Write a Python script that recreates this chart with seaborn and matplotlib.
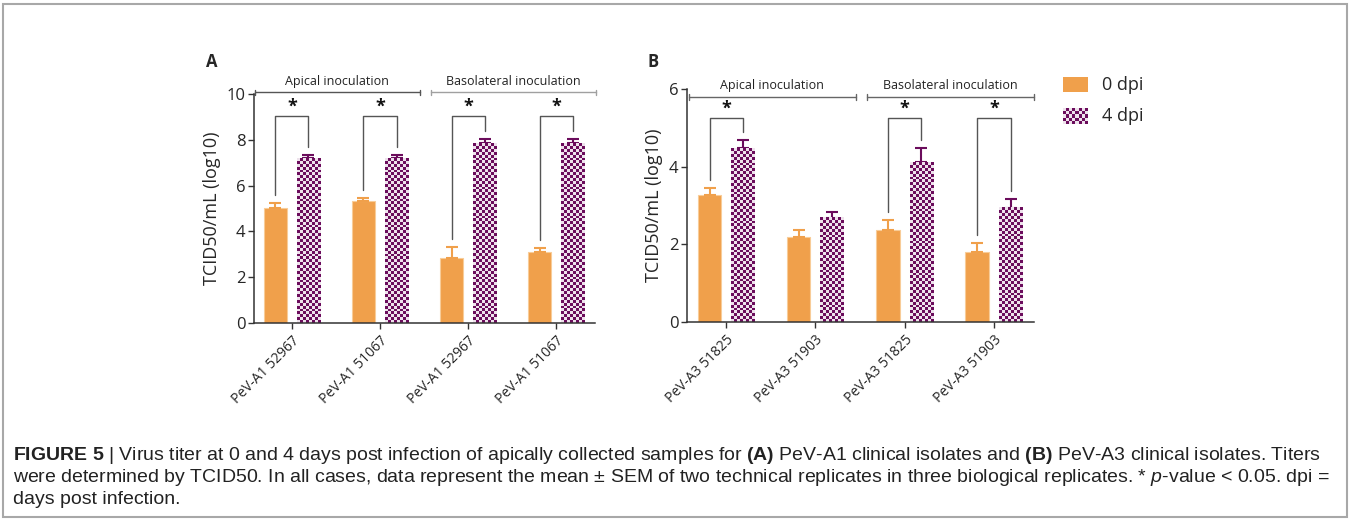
import numpy as np
import pandas as pd
import matplotlib
matplotlib.use("Agg")
import matplotlib.pyplot as plt
from matplotlib.colors import ListedColormap
from matplotlib.patches import Rectangle
import seaborn as sns

# --- DATA ---
dpi_levels = ["0 dpi", "4 dpi"]

labels_a = ["PeV-A1 52967", "PeV-A1 51067", "PeV-A1 52967", "PeV-A1 51067"]
a_0dpi = [5.02, 5.33, 2.82, 3.09]
a_0dpi_sem = [0.23, 0.14, 0.50, 0.20]
a_4dpi = [7.19, 7.19, 7.85, 7.85]
a_4dpi_sem = [0.14, 0.14, 0.18, 0.18]
a_sig = [True, True, True, True]

labels_b = ["PeV-A3 51825", "PeV-A3 51903", "PeV-A3 51825", "PeV-A3 51903"]
b_0dpi = [3.26, 2.19, 2.36, 1.80]
b_0dpi_sem = [0.19, 0.18, 0.26, 0.23]
b_4dpi = [4.47, 2.68, 4.11, 2.94]
b_4dpi_sem = [0.21, 0.16, 0.36, 0.23]
b_sig = [True, False, True, True]

groups = ["Apical inoculation", "Basolateral inoculation"]

ORANGE = "#F0A04B"
PURPLE = "#6B0C5C"
CHECK_LIGHT = "#EEE2EC"
checker_cmap = ListedColormap([CHECK_LIGHT, PURPLE])

CAPTION = [
    r"$\mathbf{FIGURE\ 5}$ | Virus titer at 0 and 4 days post infection of apically collected samples for "
    r"$\mathbf{(A)}$ PeV-A1 clinical isolates and $\mathbf{(B)}$ PeV-A3 clinical isolates. Titers",
    r"were determined by TCID50. In all cases, data represent the mean $\pm$ SEM of two technical replicates "
    r"in three biological replicates. * $\mathit{p}$-value < 0.05. dpi =",
    "days post infection.",
]

sns.set_style("ticks")
plt.rcParams["font.family"] = ["Open Sans", "DejaVu Sans"]
plt.rcParams["mathtext.fontset"] = "custom"
plt.rcParams["mathtext.rm"] = "Liberation Sans"
plt.rcParams["mathtext.bf"] = "Liberation Sans:bold"
plt.rcParams["mathtext.it"] = "Liberation Sans:italic"

W, H = 1351, 521
fig = plt.figure(figsize=(W / 100, H / 100), dpi=100)


def px_axes(left, top, right, bottom):
    return fig.add_axes([left / W, 1 - bottom / H, (right - left) / W, (bottom - top) / H])


def checker_fill(ax, bar, cell=2.9):
    # overlay a checkerboard on a bar, clipped to the bar patch
    x0, y0 = bar.get_x(), bar.get_y()
    x1, y1 = x0 + bar.get_width(), y0 + bar.get_height()
    p0 = ax.transData.transform((x0, y0))
    p1 = ax.transData.transform((x1, y1))
    nc = max(1, int(round(abs(p1[0] - p0[0]) / cell)))
    nr = max(1, int(round(abs(p1[1] - p0[1]) / cell)))
    ii, jj = np.indices((nr, nc))
    ax.imshow((ii + jj) % 2, cmap=checker_cmap, extent=(x0, x1, y0, y1), origin="lower",
              interpolation="nearest", aspect="auto", clip_path=bar, zorder=bar.get_zorder() + 0.1)


def draw_panel(ax, labels, v0, e0, v4, e4, sig, ymax, step, group_y, group_text_y,
               sig_y, star_y, xlim, base_color):
    df = pd.DataFrame({
        "pos": [str(i) for i in range(len(labels))] * 2,
        "dpi": [dpi_levels[0]] * len(labels) + [dpi_levels[1]] * len(labels),
        "titer": list(v0) + list(v4),
    })
    sns.barplot(data=df, x="pos", y="titer", hue="dpi", hue_order=dpi_levels,
                palette=[ORANGE, PURPLE], width=0.75, gap=0.3, saturation=1,
                errorbar=None, legend=False, ax=ax, linewidth=0.8)
    ax.set_xlim(*xlim)
    ax.set_ylim(0, ymax)

    bars0 = list(ax.containers[0])
    bars4 = list(ax.containers[1])
    for b in bars0:
        b.set_edgecolor("#F8CC98")
    for b in bars4:
        b.set_edgecolor("none")
        checker_fill(ax, b)

    # error bars (upper SEM only)
    for bars, errs, col in [(bars0, e0, ORANGE), (bars4, e4, PURPLE)]:
        for b, e in zip(bars, errs):
            cx = b.get_x() + b.get_width() / 2
            ax.errorbar(cx, b.get_height(), yerr=[[0], [e]], fmt="none", ecolor=col,
                        elinewidth=1.5, capsize=4, capthick=1.5, zorder=1)

    # significance brackets
    gap = 0.035 * ymax
    for i, s in enumerate(sig):
        if not s:
            continue
        b0, b4 = bars0[i], bars4[i]
        xl = b0.get_x() + b0.get_width() / 2
        xr = b4.get_x() + b4.get_width() / 2
        yl = b0.get_height() + e0[i] + gap
        yr = b4.get_height() + e4[i] + gap
        ax.plot([xl, xl, xr, xr], [yl, sig_y, sig_y, yr], color="#555555", lw=1.0,
                clip_on=False, zorder=3)
        ax.text((xl + xr) / 2, star_y, "*", ha="center", va="center", fontsize=13,
                fontweight="bold", color="#111111")

    # inoculation route brackets
    tick_h = 0.012 * ymax
    for k, name in enumerate(groups):
        g0, g1 = 2 * k, 2 * k + 1
        xa, xb = g0 - 0.42, g1 + 0.45
        col = base_color[k]
        ax.plot([xa, xb], [group_y, group_y], color=col, lw=1.0, clip_on=False)
        for xe in (xa, xb):
            ax.plot([xe, xe], [group_y - tick_h, group_y + tick_h], color=col, lw=1.0,
                    clip_on=False)
        ax.text((xa + xb) / 2, group_text_y, name, ha="center", va="center", fontsize=9,
                color="#222222")

    ax.set_yticks(np.arange(0, ymax + 0.01, step))
    ax.set_xticks(range(len(labels)))
    ax.set_xticklabels(labels, rotation=45, ha="right", rotation_mode="anchor", fontsize=10)
    ax.tick_params(axis="y", labelsize=12, length=4, width=1, color="#333333", pad=2)
    ax.tick_params(axis="x", length=4, width=1, color="#333333")
    ax.set_xlabel("")
    ax.set_ylabel("TCID50/mL (log10)", fontsize=13, labelpad=4)
    sns.despine(ax=ax)
    for sp in ("left", "bottom"):
        ax.spines[sp].set_color("#333333")
        ax.spines[sp].set_linewidth(1.1)
    ax.set_xlim(*xlim)
    ax.set_ylim(0, ymax)


ax_a = px_axes(254, 94, 595, 323)
draw_panel(ax_a, labels_a, a_0dpi, a_0dpi_sem, a_4dpi, a_4dpi_sem, a_sig,
           ymax=10, step=2, group_y=10.07, group_text_y=10.55, sig_y=9.04, star_y=9.45,
           xlim=(-0.43, 3.44), base_color=["#555555", "#A0A0A0"])

ax_b = px_axes(687, 89, 1034, 322)
draw_panel(ax_b, labels_b, b_0dpi, b_0dpi_sem, b_4dpi, b_4dpi_sem, b_sig,
           ymax=6, step=2, group_y=5.8, group_text_y=6.1, sig_y=5.25, star_y=5.5,
           xlim=(-0.44, 3.45), base_color=["#666666", "#666666"])

# panel letters
fig.text(212 / W, 1 - 62 / H, "A", fontsize=12, fontweight="bold", ha="center", va="center")
fig.text(653 / W, 1 - 62 / H, "B", fontsize=12, fontweight="bold", ha="center", va="center")

# legend drawn as a small axes with swatches
lg = px_axes(1060, 75, 1160, 127)
lg.set_xlim(0, 100)
lg.set_ylim(0, 52)
lg.axis("off")
lg.add_patch(Rectangle((3, 35), 25, 15, facecolor=ORANGE, edgecolor="none"))
ii, jj = np.indices((5, 8))
lg.imshow((ii + jj) % 2, cmap=checker_cmap, extent=(3, 28, 3, 19), origin="lower",
          interpolation="nearest", aspect="auto")
lg.set_xlim(0, 100)
lg.set_ylim(0, 52)
lg.text(42, 42.5, dpi_levels[0], va="center", ha="left", fontsize=13)
lg.text(42, 11, dpi_levels[1], va="center", ha="left", fontsize=13)

# caption
for i, line in enumerate(CAPTION):
    fig.text(13 / W, 1 - (455 + 22.5 * i) / H, line, ha="left", va="center", fontsize=14,
             family="Liberation Sans", color="#222222")

# frame around the figure
fig.patches.append(Rectangle((3 / W, 4 / H), (1347 - 3) / W, (517 - 4) / H, fill=False,
                             edgecolor="#A8A8A8", lw=1.5, transform=fig.transFigure,
                             figure=fig))

fig.savefig("out.png", dpi=100)
